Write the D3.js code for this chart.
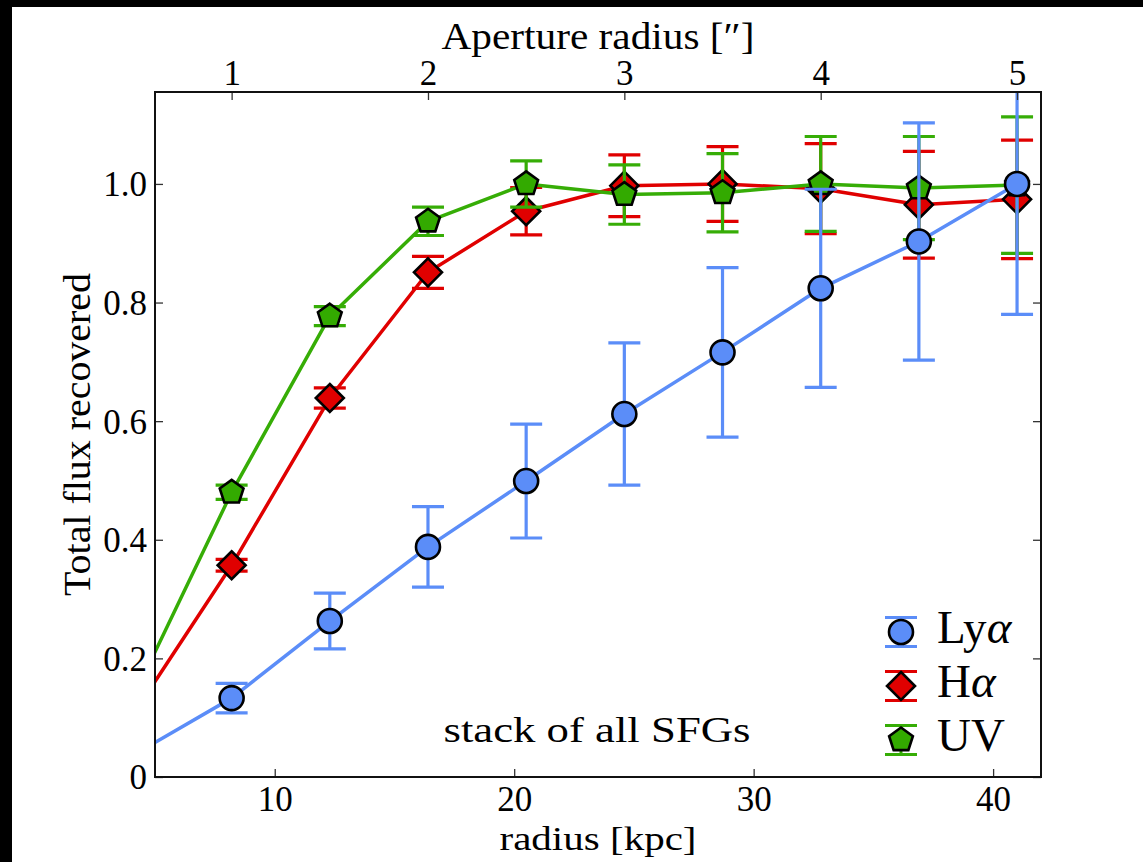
<!DOCTYPE html>
<html><head><meta charset="utf-8">
<script src="https://cdn.jsdelivr.net/npm/d3@7"></script>
<style>
body{margin:0;background:#fff;}
svg{display:block;font-family:"Liberation Serif","DejaVu Serif",serif;}
</style>
</head><body>
<svg id="chart" width="1143" height="862"></svg>
<script>
// ---------------- data ----------------
const radiusKpc   = [4.1, 8.2, 12.3, 16.4, 20.5, 24.6, 28.7, 32.8, 36.9, 41.0];
const lyaValues   = [0.037, 0.133, 0.263, 0.388, 0.499, 0.612, 0.716, 0.824, 0.903, 1.000];
const lyaErrors   = [0.015, 0.025, 0.047, 0.068, 0.096, 0.120, 0.143, 0.167, 0.200, 0.220];
const haValues    = [0.106, 0.357, 0.639, 0.851, 0.954, 0.997, 1.000, 0.992, 0.965, 0.974];
const haErrors    = [0.005, 0.010, 0.017, 0.027, 0.040, 0.052, 0.063, 0.076, 0.090, 0.100];
const uvValues    = [0.135, 0.480, 0.777, 0.937, 1.000, 0.982, 0.985, 1.000, 0.993, 0.998];
const uvErrors    = [0.005, 0.012, 0.016, 0.024, 0.039, 0.050, 0.066, 0.080, 0.087, 0.115];
const seriesNames = ["Lyα", "Hα", "UV"];
const kpcTicks    = [10, 20, 30, 40];
const arcsecTicks = [1, 2, 3, 4, 5];
const yTicks      = [0, 0.2, 0.4, 0.6, 0.8, 1.0];
const kpcPerArcsec = 8.2;
const xLabel = "radius [kpc]";
const yLabel = "Total flux recovered";
const topLabel = "Aperture radius [\u2033]";
const note = "stack of all SFGs";

// ---------------- layout ----------------
const svg = d3.select("#chart");
const L = 155, R = 1041, T = 92, B = 777;
const x = d3.scaleLinear().domain([5, 42]).range([L, R]);
const xTop = d3.scaleLinear().domain([5 / kpcPerArcsec, 42 / kpcPerArcsec]).range([L, R]);
const y = d3.scaleLinear().domain([0, 1.155]).range([B, T]);

svg.append("rect").attr("x",0).attr("y",0).attr("width",1143).attr("height",862).attr("fill","#fff");
svg.append("rect").attr("x",0).attr("y",0).attr("width",1143).attr("height",7).attr("fill","#000");
svg.append("rect").attr("x",0).attr("y",0).attr("width",12).attr("height",862).attr("fill","#000");

svg.append("defs").append("clipPath").attr("id","plotclip")
  .append("rect").attr("x",L).attr("y",T).attr("width",R-L).attr("height",B-T);

const colors = {lya:"#5b8df8", ha:"#e00000", uv:"#36ad06"};
const fills  = {lya:"#5b8df8", ha:"#e00000", uv:"#33aa00"};

function markerPath(kind){
  if(kind==="diamond"){ const s=14; return `M0,${-s}L${s},0L0,${s}L${-s},0Z`; }
  if(kind==="pentagon"){
    const r=12.5; let p=[];
    for(let i=0;i<5;i++){ const a=-Math.PI/2 + i*2*Math.PI/5; p.push([r*Math.cos(a), r*Math.sin(a)]); }
    return "M"+p.map(q=>q[0].toFixed(2)+","+q[1].toFixed(2)).join("L")+"Z";
  }
  return null;
}

const series = [
  {key:"ha",  vals:haValues,  errs:haErrors,  marker:"diamond"},
  {key:"uv",  vals:uvValues,  errs:uvErrors,  marker:"pentagon"},
  {key:"lya", vals:lyaValues, errs:lyaErrors, marker:"circle"}
];

const plot = svg.append("g").attr("clip-path","url(#plotclip)");
const capW = 16;

series.forEach(s=>{
  const g = plot.append("g");
  const pts = radiusKpc.map((r,i)=>({r, v:s.vals[i], e:s.errs[i]}));
  g.append("path").datum(pts)
    .attr("d", d3.line().x(d=>x(d.r)).y(d=>y(d.v)))
    .attr("fill","none").attr("stroke",colors[s.key]).attr("stroke-width",3.5).attr("stroke-linejoin","round");
  const eb = g.append("g").attr("stroke",colors[s.key]).attr("stroke-width",3.2);
  pts.forEach(d=>{
    eb.append("line").attr("x1",x(d.r)).attr("x2",x(d.r)).attr("y1",y(d.v-d.e)).attr("y2",y(d.v+d.e));
    eb.append("line").attr("x1",x(d.r)-capW).attr("x2",x(d.r)+capW).attr("y1",y(d.v-d.e)).attr("y2",y(d.v-d.e));
    eb.append("line").attr("x1",x(d.r)-capW).attr("x2",x(d.r)+capW).attr("y1",y(d.v+d.e)).attr("y2",y(d.v+d.e));
  });
  pts.forEach(d=>{
    if(s.marker==="circle"){
      g.append("circle").attr("cx",x(d.r)).attr("cy",y(d.v)).attr("r",12)
        .attr("fill",fills[s.key]).attr("stroke","#000").attr("stroke-width",2.6);
    } else {
      g.append("path").attr("d",markerPath(s.marker)).attr("transform",`translate(${x(d.r)},${y(d.v)})`)
        .attr("fill",fills[s.key]).attr("stroke","#000").attr("stroke-width",2.6).attr("stroke-linejoin","miter");
    }
  });
});

// ---------------- axes ----------------
const tickLen = 8;
function styleAxis(g){
  g.select(".domain").remove();
  g.selectAll(".tick line").attr("stroke","#333").attr("stroke-width",1.3);
  g.selectAll(".tick text").attr("fill","#000").attr("font-size",35).attr("font-family","Liberation Serif, serif");
}
const ax = svg.append("g").attr("transform",`translate(0,${B})`)
  .call(d3.axisBottom(x).tickValues(kpcTicks).tickSize(-tickLen).tickPadding(10).tickFormat(d3.format("d")));
styleAxis(ax);
ax.selectAll(".tick text").attr("dy",null).attr("y",34);

const axT = svg.append("g").attr("transform",`translate(0,${T})`)
  .call(d3.axisTop(xTop).tickValues(arcsecTicks).tickSize(-tickLen).tickPadding(7).tickFormat(d3.format("d")));
styleAxis(axT);
axT.selectAll(".tick text").attr("dy",null).attr("y",-7);

const ayL = svg.append("g").attr("transform",`translate(${L},0)`)
  .call(d3.axisLeft(y).tickValues(yTicks).tickSize(-tickLen).tickPadding(8).tickFormat(d=>d===0?"0":d.toFixed(1)));
styleAxis(ayL);
ayL.selectAll(".tick text").attr("dy","0.34em");

const ayR = svg.append("g").attr("transform",`translate(${R},0)`)
  .call(d3.axisRight(y).tickValues(yTicks).tickSize(-tickLen).tickFormat(""));
styleAxis(ayR);

svg.append("rect").attr("x",L).attr("y",T).attr("width",R-L).attr("height",B-T)
  .attr("fill","none").attr("stroke","#111").attr("stroke-width",2);

// ---------------- labels ----------------
const cx = (L+R)/2, cy = (T+B)/2;
svg.append("text").attr("x",cx).attr("y",850).attr("text-anchor","middle")
  .attr("font-size",34).attr("textLength",197).attr("lengthAdjust","spacingAndGlyphs").text(xLabel);
svg.append("text").attr("x",cx).attr("y",49).attr("text-anchor","middle")
  .attr("font-size",38).attr("textLength",313).attr("lengthAdjust","spacingAndGlyphs").text(topLabel);
svg.append("text").attr("transform",`translate(90,${cy}) rotate(-90)`).attr("text-anchor","middle")
  .attr("font-size",38).attr("textLength",323).attr("lengthAdjust","spacingAndGlyphs").text(yLabel);
svg.append("text").attr("x",cx-1).attr("y",742).attr("text-anchor","middle")
  .attr("font-size",36).attr("textLength",307).attr("lengthAdjust","spacingAndGlyphs").text(note);

// ---------------- legend ----------------
const legendOrder = [
  {key:"lya", marker:"circle", name:seriesNames[0]},
  {key:"ha",  marker:"diamond", name:seriesNames[1]},
  {key:"uv",  marker:"pentagon", name:seriesNames[2]}
];
const lgX = 901, lgY0 = 632, lgDy = 54;
legendOrder.forEach((s,i)=>{
  const cyL = lgY0 + i*lgDy;
  const g = svg.append("g");
  g.append("line").attr("x1",lgX).attr("x2",lgX).attr("y1",cyL-14.5).attr("y2",cyL+14.5).attr("stroke",colors[s.key]).attr("stroke-width",3);
  [-14.5,14.5].forEach(o=>g.append("line").attr("x1",lgX-capW).attr("x2",lgX+capW).attr("y1",cyL+o).attr("y2",cyL+o)
     .attr("stroke",colors[s.key]).attr("stroke-width",3));
  if(s.marker==="circle"){
    g.append("circle").attr("cx",lgX).attr("cy",cyL).attr("r",12).attr("fill",fills[s.key]).attr("stroke","#000").attr("stroke-width",2.6);
  } else {
    g.append("path").attr("d",markerPath(s.marker)).attr("transform",`translate(${lgX},${cyL})`)
      .attr("fill",fills[s.key]).attr("stroke","#000").attr("stroke-width",2.6);
  }
  const t = g.append("text").attr("x",937).attr("y",cyL+11).attr("font-size",47);
  const nm = s.name;
  if(nm.endsWith("α")){
    t.append("tspan").text(nm.slice(0,-1));
    t.append("tspan").attr("font-style","italic").text("α");
  } else t.text(nm);
});
</script>
</body></html>
